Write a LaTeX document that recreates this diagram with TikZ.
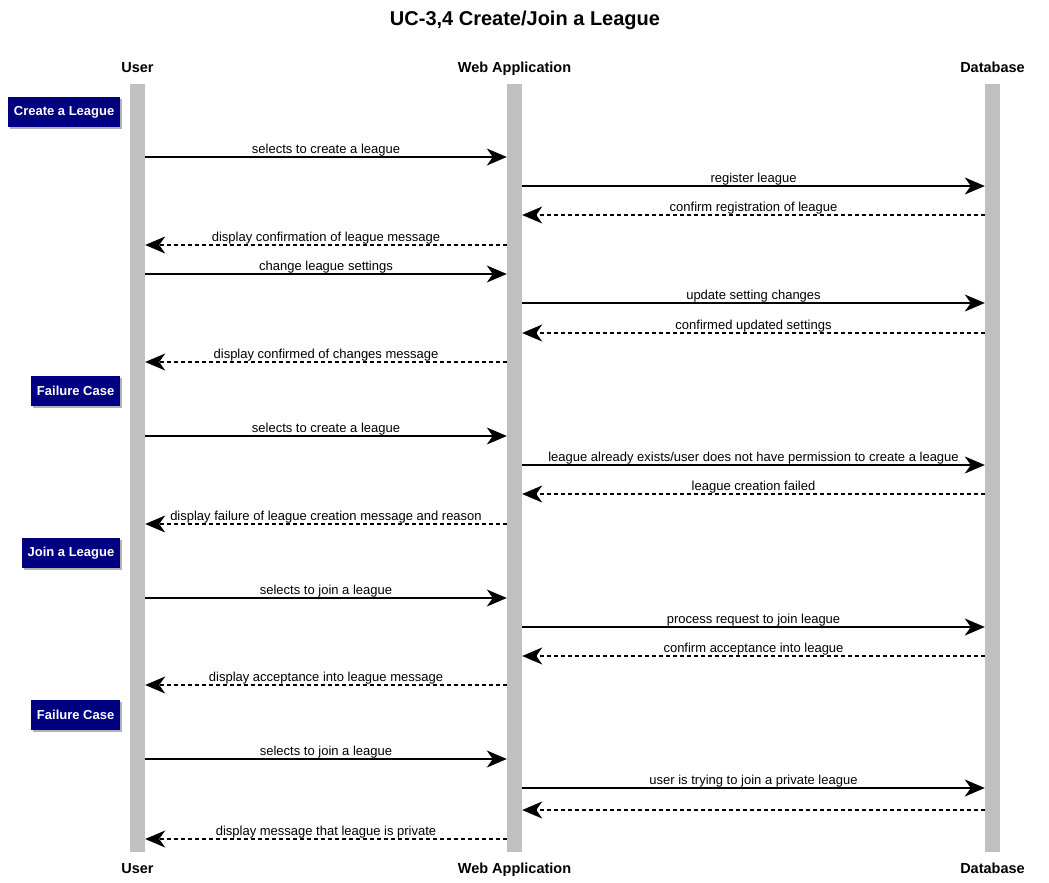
\documentclass[tikz,border=0pt]{standalone}
\usepackage{fontspec}
\setmainfont{Liberation Sans}
\usetikzlibrary{arrows.meta,shadows}
\definecolor{notebg}{RGB}{0,0,128}
\definecolor{lifegray}{RGB}{192,192,192}
\begin{document}
\begin{tikzpicture}[x=1pt,y=-1pt,
        life/.style={fill=lifegray,draw=none,inner sep=0pt,minimum width=15pt,minimum height=768pt,anchor=north},
        actor/.style={font=\bfseries\fontsize{14.5}{16}\selectfont,anchor=base},
        call/.style={line width=1.5pt,-{Stealth[length=20pt,width=17pt,inset=6pt]}},
        reply/.style={call,dash pattern=on 4pt off 3pt},
        lbl/.style={font=\fontsize{13}{15}\selectfont,anchor=base,yshift=4pt,inner sep=0pt},
        note/.style={fill=notebg,text=white,font=\bfseries\fontsize{13}{15}\selectfont,anchor=east,inner xsep=5.5pt,minimum height=30pt,drop shadow={shadow xshift=2pt,shadow yshift=-2pt,fill=black!60}}]
    \useasboundingbox (0,0) rectangle (1049,883);
    \node[font=\bfseries\fontsize{20}{22}\selectfont,anchor=base] (title) at (525,26) {UC-3,4 Create/Join a League};
    % lifelines
    \node[life] (U) at (137.5,84) {};
    \node[life] (W) at (514.5,84) {};
    \node[life] (D) at (992.5,84) {};
    \node[actor] (Ut) at (137.5,72) {User};
    \node[actor] (Wt) at (514.5,72) {Web Application};
    \node[actor] (Dt) at (992.5,72) {Database};
    \node[actor] (Ub) at (137.5,873) {User};
    \node[actor] (Wb) at (514.5,873) {Web Application};
    \node[actor] (Db) at (992.5,873) {Database};
    % notes
    \node[note] (n1) at (120,112) {Create a League};
    \node[note] (n2) at (120,391) {Failure Case};
    \node[note] (n3) at (120,553) {Join a League};
    \node[note] (n4) at (120,715) {Failure Case};
    % messages
    \foreach \y/\a/\b/\s/\t [count=\i] in {
            157/U.east/W.west/call/{selects to create a league},
            186/W.east/D.west/call/{register league},
            215/D.west/W.east/reply/{confirm registration of league},
            245/W.west/U.east/reply/{display confirmation of league message},
            274/U.east/W.west/call/{change league settings},
            303/W.east/D.west/call/{update setting changes},
            333/D.west/W.east/reply/{confirmed updated settings},
            362/W.west/U.east/reply/{display confirmed of changes message},
            436/U.east/W.west/call/{selects to create a league},
            465/W.east/D.west/call/{league already exists/user does not have permission to create a league},
            494/D.west/W.east/reply/{league creation failed},
            524/W.west/U.east/reply/{display failure of league creation message and reason},
            598/U.east/W.west/call/{selects to join a league},
            627/W.east/D.west/call/{process request to join league},
            656/D.west/W.east/reply/{confirm acceptance into league},
            685/W.west/U.east/reply/{display acceptance into league message},
            759/U.east/W.west/call/{selects to join a league},
            788/W.east/D.west/call/{user is trying to join a private league},
            810/D.west/W.east/reply/{},
            839/W.west/U.east/reply/{display message that league is private}}
        \draw[\s] (\a |- 0,\y) -- node[lbl] (m\i) {\t} (\b |- 0,\y);
\end{tikzpicture}
\end{document}
